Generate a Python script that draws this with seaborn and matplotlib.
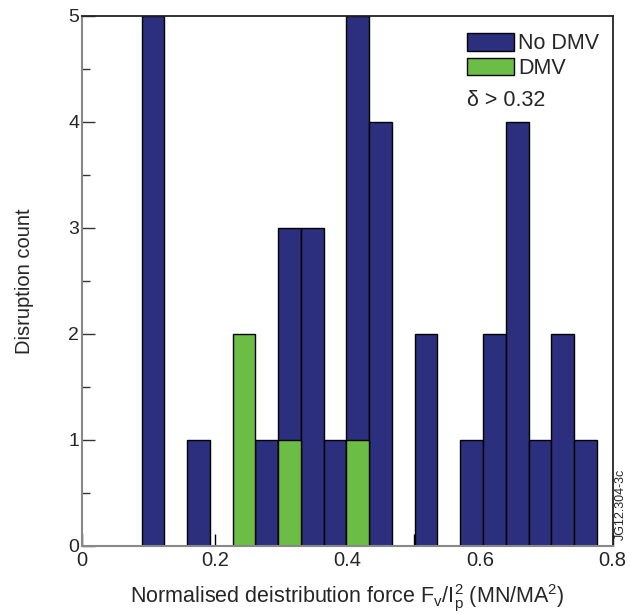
import numpy as np
import pandas as pd
import matplotlib.pyplot as plt
import seaborn as sns
from matplotlib.patches import Patch
from matplotlib.ticker import MultipleLocator

sns.set_theme(style="ticks")
plt.rcParams['font.family'] = ['Liberation Sans', 'DejaVu Sans']

# histogram: 20 equal bins between these limits
bin_lo, bin_hi = 0.0898, 0.776
no_dmv = [5, 0, 1, 0, 0, 1, 3, 3, 1, 5, 4, 0, 2, 0, 1, 2, 4, 1, 2, 1]
dmv = [0, 0, 0, 0, 2, 0, 1, 0, 0, 1, 0, 0, 0, 0, 0, 0, 0, 0, 0, 0]
series_labels = ['No DMV', 'DMV']

BLUE = '#2b2f7e'
GREEN = '#6bbd45'

edges = list(np.linspace(bin_lo, bin_hi, len(no_dmv) + 1))
centers = [(a + b) / 2 for a, b in zip(edges[:-1], edges[1:])]
df = pd.DataFrame({'force': centers, 'no_dmv': no_dmv, 'dmv': dmv})

fig = plt.figure(figsize=(6.31, 6.14), dpi=100)
ax = fig.add_axes([0.130, 0.111, 0.841, 0.863])

sns.histplot(data=df, x='force', weights='no_dmv', bins=edges, color=BLUE,
             alpha=1, edgecolor='black', linewidth=1, ax=ax)
sns.histplot(data=df, x='force', weights='dmv', bins=edges, color=GREEN,
             alpha=1, edgecolor='black', linewidth=1, ax=ax)

# empty bins would leave a black line on the axis
for p in ax.patches:
    if p.get_height() == 0:
        p.set_visible(False)

ax.set_xlim(0, 0.8)
ax.set_ylim(0, 5)
ax.set_xticks([0, 0.2, 0.4, 0.6, 0.8])
ax.set_xticklabels(['0', '0.2', '0.4', '0.6', '0.8'])
ax.xaxis.set_minor_locator(MultipleLocator(0.1))
ax.yaxis.set_major_locator(MultipleLocator(1))
ax.yaxis.set_minor_locator(MultipleLocator(0.5))
ax.tick_params(axis='x', which='both', direction='in', length=8.5, width=1,
               color='black', labelsize=14.5, pad=4)
ax.tick_params(axis='y', which='major', direction='in', length=9.5, width=1,
               color='#333333', labelsize=14, pad=2)
ax.tick_params(axis='y', which='minor', direction='in', length=5.5, width=1,
               color='#333333')
ax.set_axisbelow(True)

for side in ['left', 'bottom']:
    ax.spines[side].set_color('#888888')
    ax.spines[side].set_linewidth(1.5)
for side in ['top', 'right']:
    ax.spines[side].set_color('#222222')
    ax.spines[side].set_linewidth(1.3)

ax.set_ylabel('Disruption count', fontsize=14.5, labelpad=25)
ax.set_xlabel(r'Normalised deistribution force F$_\mathregular{v}$/I$_\mathregular{p}^\mathregular{2}$ (MN/MA$^\mathregular{2}$)',
              fontsize=15.5, labelpad=9)

handles = [Patch(facecolor=BLUE, edgecolor='black', label=series_labels[0]),
           Patch(facecolor=GREEN, edgecolor='black', label=series_labels[1])]
ax.legend(handles=handles, loc='upper left', bbox_to_anchor=(0.725, 0.968),
          frameon=False, fontsize=15.5, handlelength=2.2, handleheight=0.9,
          handletextpad=0.2, labelspacing=0.15, borderaxespad=0, borderpad=0)

ax.text(0.726, 0.84, '\u03b4 > 0.32', transform=ax.transAxes, fontsize=15.5,
        ha='left', va='center')
fig.text(0.984, 0.12, 'JG12.304-3c', rotation=90, fontsize=9,
         ha='center', va='bottom')

plt.savefig('out.png', dpi=100)
